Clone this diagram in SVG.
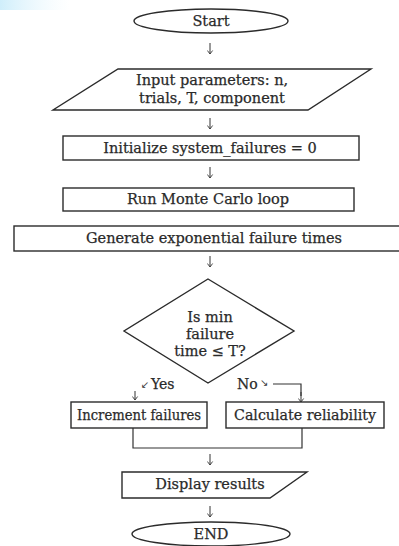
<svg xmlns="http://www.w3.org/2000/svg" width="399" height="546" viewBox="0 0 399 546">
  <defs>
    <marker id="ah" viewBox="0 0 8 8" refX="7" refY="4" markerWidth="7" markerHeight="7" orient="auto" markerUnits="userSpaceOnUse">
      <path d="M3,1 L7,4 L3,7" fill="none" stroke="#333" stroke-width="1"/>
    </marker>
    <linearGradient id="wm" x1="0" y1="0" x2="1" y2="0">
      <stop offset="0" stop-color="#cfeefb"/>
      <stop offset="1" stop-color="#e9f7fd" stop-opacity="0"/>
    </linearGradient>
  </defs>
  <style>
    .shape { fill: #ffffff; stroke: #2b2b2b; stroke-width: 1.4; }
    .t { font-family: "DejaVu Serif", "Liberation Serif", serif; font-size: 14.5px; fill: #2a2a2a; stroke: #2a2a2a; stroke-width: 0.25; text-anchor: middle; }
    .lbl { font-family: "DejaVu Serif", "Liberation Serif", serif; font-size: 14px; fill: #2a2a2a; stroke: #2a2a2a; stroke-width: 0.25; }
    .sm { font-family: "DejaVu Sans", sans-serif; font-size: 10px; fill: #333; }
    .arr { fill: none; stroke: #333; stroke-width: 1; marker-end: url(#ah); }
    .ln { fill: none; stroke: #333; stroke-width: 1.2; }
  </style>
  <rect width="399" height="546" fill="#ffffff"/>
  <rect x="0" y="0" width="70" height="10" fill="url(#wm)"/>

  <g id="connectors">
    <path class="arr" d="M210,43 V54"/>
    <path class="arr" d="M210,118 V129"/>
    <path class="arr" d="M210,167 V178"/>
    <path class="arr" d="M210,256 V267"/>
    <path class="arr" d="M135,391 V400"/>
    <path class="ln" d="M273,384 H301 V396"/>
    <path class="arr" d="M301,392 V402"/>
    <path class="ln" d="M133,428 V448 H302 V428"/>
    <path class="arr" d="M210,454 V465"/>
    <path class="arr" d="M210,506 V517"/>
    <text class="sm" x="141" y="388">↙</text>
    <text class="lbl" x="151" y="389">Yes</text>
    <text class="lbl" x="237" y="389">No</text>
    <text class="sm" x="260" y="386">↘</text>
  </g>

  <g id="start">
    <ellipse class="shape" cx="211" cy="21" rx="77" ry="12"/>
    <text class="t" x="211" y="26">Start</text>
  </g>

  <g id="input">
    <polygon class="shape" points="118,69 371,69 308,110 53,110"/>
    <text class="t" x="212" y="85">Input parameters: n,</text>
    <text class="t" x="212" y="103">trials, T, component</text>
  </g>

  <g id="init">
    <rect class="shape" x="63" y="136" width="296" height="24"/>
    <text class="t" x="210" y="153">Initialize system_failures = 0</text>
  </g>

  <g id="loop">
    <rect class="shape" x="63" y="188" width="291" height="23"/>
    <text class="t" x="208" y="204">Run Monte Carlo loop</text>
  </g>

  <g id="generate">
    <rect class="shape" x="14" y="226" width="400" height="25"/>
    <text class="t" x="214" y="243">Generate exponential failure times</text>
  </g>

  <g id="decision">
    <polygon class="shape" points="208,279 294,331 208,383 124,331"/>
    <text class="t" x="210" y="322">Is min</text>
    <text class="t" x="210" y="339">failure</text>
    <text class="t" x="210" y="356">time ≤ T?</text>
  </g>

  <g id="increment">
    <rect class="shape" x="71" y="402" width="136" height="26"/>
    <text class="t" x="139" y="420" textLength="124" lengthAdjust="spacingAndGlyphs">Increment failures</text>
  </g>

  <g id="reliability">
    <rect class="shape" x="226" y="402" width="158" height="26"/>
    <text class="t" x="305" y="420" textLength="142" lengthAdjust="spacingAndGlyphs">Calculate reliability</text>
  </g>

  <g id="display">
    <polygon class="shape" points="122,472 307,472 270,498 122,498"/>
    <text class="t" x="210" y="489">Display results</text>
  </g>

  <g id="end">
    <ellipse class="shape" cx="211" cy="534" rx="79" ry="12"/>
    <text class="t" x="211" y="539">END</text>
  </g>
</svg>
